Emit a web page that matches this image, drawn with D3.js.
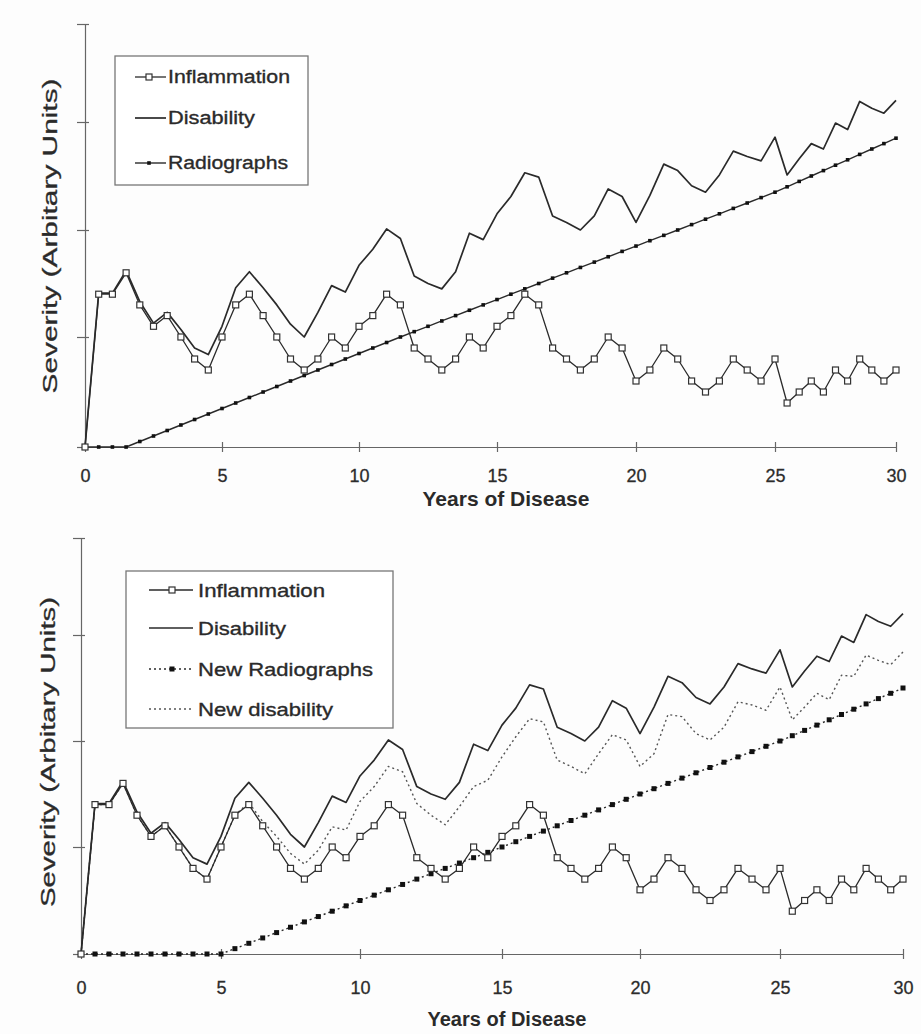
<!DOCTYPE html>
<html><head><meta charset="utf-8">
<script src="https://cdn.jsdelivr.net/npm/d3@7/dist/d3.min.js"></script>
<style>
body{margin:0;background:#fff}
svg{display:block}
text{font-family:"Liberation Sans",Arial,sans-serif;fill:#2a2a2a}
</style>
</head><body>
<svg id="c" width="921" height="1034"></svg>
<script>
// ---- data (Severity, arbitrary units) ----
const years = [0,0.5,1,1.5,2,2.5,3,3.5,4,4.5,5,5.5,6,6.5,7,7.5,8,8.5,9,9.5,10,10.5,11,11.5,12,12.5,13,13.5,14,14.5,15,15.5,16,16.5,17,17.5,18,18.5,19,19.5,20,20.5,21,21.5,22,22.5,23,23.5,24,24.5,25,25.5,26,26.5,27,27.5,28,28.5,29,29.5,30];
const inflammation = [0,1.4,1.4,1.6,1.3,1.1,1.2,1.0,0.8,0.7,1.0,1.3,1.4,1.2,1.0,0.8,0.7,0.8,1.0,0.9,1.1,1.2,1.4,1.3,0.9,0.8,0.7,0.8,1.0,0.9,1.1,1.2,1.4,1.3,0.9,0.8,0.7,0.8,1.0,0.9,0.6,0.7,0.9,0.8,0.6,0.5,0.6,0.8,0.7,0.6,0.8,0.4,0.5,0.6,0.5,0.7,0.6,0.8,0.7,0.6,0.7];
const disability = [0,1.41,1.41,1.62,1.33,1.13,1.23,1.07,0.90,0.84,1.10,1.46,1.61,1.46,1.30,1.12,1.00,1.23,1.48,1.42,1.67,1.82,2.01,1.92,1.57,1.50,1.45,1.61,1.97,1.91,2.15,2.31,2.53,2.49,2.13,2.07,2.00,2.13,2.38,2.31,2.07,2.32,2.61,2.55,2.41,2.35,2.51,2.73,2.68,2.64,2.86,2.51,2.66,2.80,2.75,2.99,2.93,3.21,3.14,3.09,3.22];
const radiographs = [0,0,0,0,0.05,0.1,0.15,0.2,0.25,0.3,0.35,0.4,0.45,0.5,0.55,0.6,0.65,0.7,0.75,0.8,0.85,0.9,0.95,1.0,1.05,1.1,1.15,1.2,1.25,1.3,1.35,1.4,1.45,1.5,1.55,1.6,1.65,1.7,1.75,1.8,1.85,1.9,1.95,2.0,2.05,2.1,2.15,2.2,2.25,2.3,2.35,2.4,2.45,2.5,2.55,2.6,2.65,2.7,2.75,2.8,2.85];
const newRadiographs = [0,0,0,0,0,0,0,0,0,0,0,0.05,0.1,0.15,0.2,0.25,0.3,0.35,0.4,0.45,0.5,0.55,0.6,0.65,0.7,0.75,0.8,0.85,0.9,0.95,1.0,1.05,1.1,1.15,1.2,1.25,1.3,1.35,1.4,1.45,1.5,1.55,1.6,1.65,1.7,1.75,1.8,1.85,1.9,1.95,2.0,2.05,2.1,2.15,2.2,2.25,2.3,2.35,2.4,2.45,2.5];
const newDisability = [0,1.4,1.4,1.6,1.3,1.1,1.2,1.0,0.8,0.7,1.0,1.3,1.42,1.24,1.10,0.94,0.84,0.97,1.19,1.16,1.43,1.57,1.76,1.71,1.41,1.30,1.21,1.38,1.57,1.63,1.85,2.04,2.21,2.18,1.82,1.76,1.69,1.88,2.06,2.01,1.76,1.88,2.25,2.23,2.07,2.01,2.13,2.37,2.34,2.29,2.51,2.20,2.32,2.45,2.39,2.62,2.61,2.81,2.76,2.72,2.84];
const xTicks = [0,5,10,15,20,25,30];
const yTicks = [0,1,2,3,4];
const xTitle = "Years of Disease";
const yTitle = "Severity (Arbitary Units)";

const INK = "#2a2a2a";
const svg = d3.select("#c");
svg.append("rect").attr("width",921).attr("height",1034).attr("fill","#fdfdfd");

function drawPanel(cfg){
  const g = svg.append("g");
  const x = d3.scaleLinear().domain(xTicks).range(cfg.xRange);
  const y = d3.scaleLinear().domain(yTicks).range(cfg.yRange);

  // y axis
  const ya = g.append("g").attr("transform",`translate(${cfg.xRange[0]},0)`)
    .call(d3.axisLeft(y).tickValues(yTicks).tickFormat("").tickSizeOuter(0));
  ya.select(".domain").attr("stroke","#666").attr("stroke-width",1.2);
  ya.selectAll(".tick line").attr("x1",4).attr("x2",-8).attr("stroke","#666").attr("stroke-width",1.2);

  // x axis
  const xa = g.append("g").attr("transform",`translate(0,${cfg.yRange[0]})`)
    .call(d3.axisBottom(x).tickValues(xTicks).tickSizeOuter(0));
  xa.select(".domain").attr("stroke","#666").attr("stroke-width",1.2);
  xa.selectAll(".tick line").attr("y1",-5).attr("y2",5).attr("stroke","#666").attr("stroke-width",1.2);
  xa.selectAll(".tick text").attr("y",cfg.tickLabelY).attr("dy",null)
    .attr("font-size",18).attr("font-family","Liberation Sans").attr("fill","#333")
    .attr("stroke","#333").attr("stroke-width",0.3);

  // titles
  g.append("text").attr("x",cfg.xTitleX).attr("y",cfg.xTitleY).attr("text-anchor","middle")
    .attr("font-size",cfg.xTitleFs).attr("font-weight","bold").attr("fill","#333").text(xTitle);
  g.append("text").attr("transform",`translate(${cfg.yTitleX},${cfg.yTitleY}) rotate(-90)`)
    .attr("text-anchor","middle").attr("dy","0.35em").attr("font-size",20)
    .attr("textLength",cfg.yTitleLen).attr("lengthAdjust","spacingAndGlyphs")
    .attr("fill","#333").attr("stroke","#333").attr("stroke-width",0.3).text(yTitle);

  const line = d3.line().x((d,i)=>x(years[i])).y(d=>y(d));

  cfg.series.forEach(s=>{
    g.append("path").datum(s.values).attr("d",line).attr("fill","none")
      .attr("stroke",s.color||INK).attr("stroke-width",s.width)
      .attr("stroke-dasharray",s.dash||null).attr("stroke-linejoin","round");
    if(s.marker){
      const m = s.marker;
      g.append("g").selectAll("rect").data(s.values).join("rect")
        .attr("x",(d,i)=>x(years[i])-m.size/2).attr("y",d=>y(d)-m.size/2)
        .attr("width",m.size).attr("height",m.size)
        .attr("fill",m.fill).attr("stroke",m.stroke||"none").attr("stroke-width",m.sw||0);
    }
  });

  // legend
  const L = cfg.legend;
  const lg = g.append("g");
  lg.append("rect").attr("x",L.x).attr("y",L.y).attr("width",L.w).attr("height",L.h)
    .attr("fill","#fff").attr("stroke","#777").attr("stroke-width",1.3);
  L.items.forEach((it,k)=>{
    const cy = L.rows[k];
    lg.append("line").attr("x1",L.sx1).attr("x2",L.sx2).attr("y1",cy).attr("y2",cy)
      .attr("stroke",it.s.color||INK).attr("stroke-width",it.s.width).attr("stroke-dasharray",it.s.dash||null);
    if(it.s.marker){
      const m = it.s.marker, mx = L.mx;
      lg.append("rect").attr("x",mx-m.size/2).attr("y",cy-m.size/2).attr("width",m.size).attr("height",m.size)
        .attr("fill",m.fill).attr("stroke",m.stroke||"none").attr("stroke-width",m.sw||0);
    }
    lg.append("text").attr("x",L.tx).attr("y",cy).attr("dy","0.36em").attr("font-size",L.fs)
      .attr("textLength",it.w).attr("lengthAdjust","spacingAndGlyphs")
      .attr("stroke",INK).attr("stroke-width",0.35).text(it.label);
  });
}

const sInflam = {values:inflammation,width:1.3,marker:{size:6,fill:"#fff",stroke:"#333",sw:1.2}};
const sDisab = {values:disability,width:1.7};
const sRadio = {values:radiographs,width:1.4,marker:{size:3.6,fill:"#111"}};
const sNewRadio = {values:newRadiographs,width:1.4,dash:"2,3",marker:{size:5,fill:"#111"}};
const sNewDisab = {values:newDisability,width:1.4,dash:"2,3",color:"#555"};

drawPanel({
  xRange:[85,222,359,497,636,775,896],
  yRange:[447,337,230,122,24],
  tickLabelY:35,
  xTitleX:506, xTitleY:506, xTitleFs:21,
  yTitleX:50, yTitleY:236, yTitleLen:315,
  series:[sRadio,sDisab,sInflam],
  legend:{x:115,y:56,w:193,h:129,rows:[77,118,163],sx1:135,sx2:166,mx:149,tx:168,fs:18,
    items:[{s:sInflam,label:"Inflammation",w:122},{s:sDisab,label:"Disability",w:87},{s:sRadio,label:"Radiographs",w:120}]}
});

drawPanel({
  xRange:[81,221,360,502,640,780,903],
  yRange:[954,847,741,635,538],
  tickLabelY:40,
  xTitleX:507, xTitleY:1026, xTitleFs:20,
  yTitleX:48, yTitleY:752, yTitleLen:310,
  series:[sNewRadio,sNewDisab,sDisab,sInflam],
  legend:{x:126,y:571,w:267,h:157,rows:[590,628,669,709],sx1:149,sx2:193,mx:172,tx:198,fs:19,
    items:[{s:sInflam,label:"Inflammation",w:127},{s:sDisab,label:"Disability",w:88},{s:sNewRadio,label:"New Radiographs",w:175},{s:sNewDisab,label:"New disability",w:135}]}
});
</script>
</body></html>
